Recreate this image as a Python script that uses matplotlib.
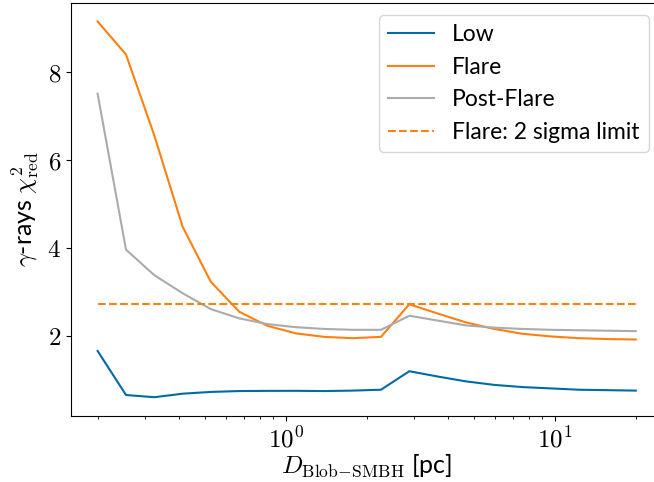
import numpy as np
import matplotlib
matplotlib.use("Agg")
import matplotlib.pyplot as plt
from matplotlib.ticker import FuncFormatter

plt.rcParams["mathtext.fontset"] = "cm"
plt.rcParams["font.family"] = ["Lato", "DejaVu Sans"]

# distance grid (pc), 20 log-spaced points from 0.2 to 20
distance = [0.2, 0.255, 0.325, 0.414, 0.527, 0.672, 0.856, 1.09, 1.39, 1.77,
            2.26, 2.88, 3.67, 4.67, 5.95, 7.58, 9.66, 12.3, 15.7, 20.0]

chi2_low = [1.66, 0.66, 0.61, 0.69, 0.73, 0.75, 0.754, 0.755, 0.75, 0.76,
            0.78, 1.20, 1.08, 0.97, 0.89, 0.84, 0.81, 0.78, 0.77, 0.76]
chi2_flare = [9.14, 8.39, 6.55, 4.48, 3.23, 2.55, 2.23, 2.06, 1.98, 1.95,
              1.98, 2.72, 2.51, 2.31, 2.16, 2.05, 1.99, 1.95, 1.93, 1.92]
chi2_post = [7.50, 3.96, 3.38, 2.97, 2.61, 2.40, 2.27, 2.20, 2.16, 2.14,
             2.14, 2.46, 2.35, 2.24, 2.19, 2.16, 2.14, 2.13, 2.12, 2.11]
flare_limit = 2.72

W, H = 654, 482
fig = plt.figure(figsize=(W / 100, H / 100), dpi=100)
ax = fig.add_axes([70.7 / W, (H - 416) / H, 592 / W, (416 - 2.7) / H])

ax.plot(distance, chi2_low, color="#006BA4", lw=1.5, label="Low")
ax.plot(distance, chi2_flare, color="#FF800E", lw=1.5, label="Flare")
ax.plot(distance, chi2_post, color="#ABABAB", lw=1.5, label="Post-Flare")
ax.plot(distance, [flare_limit] * len(distance), color="#FF800E", lw=1.5,
        ls="--", label="Flare: 2 sigma limit")

ax.set_xscale("log")
ax.xaxis.set_major_formatter(FuncFormatter(lambda v, p: r"$10^{%d}$" % round(np.log10(v))))
ax.yaxis.set_major_formatter(FuncFormatter(lambda v, p: r"$%g$" % v))
ax.tick_params(labelsize=18)
ax.set_xlabel(r"$D_{\rm Blob\!-\!SMBH}$ [pc]", fontsize=18, labelpad=1)
ax.set_ylabel(r"$\gamma$-rays $\chi^2_{\rm red}$", fontsize=18)

ax.legend(loc="upper right", bbox_to_anchor=(649 / W, (H - 15) / H),
          bbox_transform=fig.transFigure, borderaxespad=0, fontsize=16.5,
          handlelength=2.0)

fig.savefig("out.png", dpi=100)
